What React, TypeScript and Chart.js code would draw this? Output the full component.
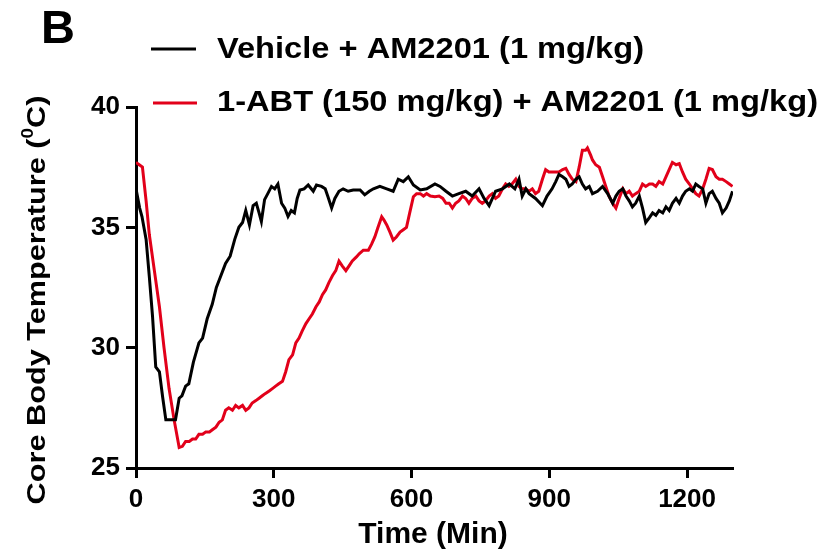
import React, { useEffect, useRef } from "react";
import { Chart, registerables } from "chart.js";

Chart.register(...registerables);

const FONT = '"Liberation Sans", Arial, Helvetica, sans-serif';

const seriesLabels = ["Vehicle + AM2201 (1 mg/kg)", "1-ABT (150 mg/kg) + AM2201 (1 mg/kg)"];
const seriesColors = ["#000000", "#e2001a"];

const xTicks = [0, 300, 600, 900, 1200];
const yTicks = [25, 30, 35, 40];

const vehicleTime = [
  0, 4, 8, 13, 22, 29, 36, 43, 51, 58, 65, 75, 86, 94, 100, 108, 115, 125, 137, 145,
  155, 166, 175, 185, 195, 205, 215, 224, 232, 239, 247, 255, 262, 268, 273, 280, 287, 295, 302, 309,
  317, 324, 331, 338, 345, 351, 357, 366, 375, 386, 393, 404, 412, 418, 426, 433, 442, 451, 462, 473,
  488, 498, 508, 517, 531, 546, 560, 571, 582, 593, 604, 619, 633, 651, 662, 675, 689, 703, 718, 732,
  747, 758, 769, 783, 798, 813, 825, 834, 841, 849, 856, 870, 885, 895, 906, 914, 921, 929, 936, 943,
  950, 958, 965, 972, 979, 987, 994, 1005, 1016, 1027, 1038, 1045, 1052, 1060, 1067, 1074, 1081, 1088, 1096, 1103,
  1110, 1118, 1125, 1132, 1139, 1147, 1154, 1161, 1168, 1176, 1183, 1190, 1197, 1205, 1212, 1219, 1226, 1234, 1241, 1248,
  1255, 1263, 1270, 1277, 1285, 1292, 1299,
];
const vehicleTemp = [
  35.9, 36.2, 35.8, 35.45, 34.5, 32.95, 31.3, 29.2, 29.0, 27.95, 27.0, 27.0, 27.0, 27.9, 28.0, 28.4, 28.5, 29.4, 30.2, 30.4,
  31.2, 31.8, 32.5, 33.0, 33.5, 33.8, 34.5, 35.0, 35.2, 35.7, 35.1, 35.9, 36.0, 35.6, 35.24, 36.15, 36.4, 36.7, 36.6, 36.8,
  36.0, 35.8, 35.45, 35.7, 35.6, 36.2, 36.55, 36.6, 36.76, 36.5, 36.76, 36.7, 36.6, 36.27, 35.8, 36.2, 36.5, 36.6, 36.5, 36.55,
  36.55, 36.35, 36.5, 36.6, 36.7, 36.6, 36.5, 37.0, 36.9, 37.1, 36.76, 36.55, 36.6, 36.8, 36.7, 36.5, 36.3, 36.4, 36.5, 36.3,
  36.6, 36.2, 35.9, 36.5, 36.6, 36.8, 36.6, 37.0, 36.3, 36.6, 36.4, 36.2, 35.9, 36.3, 36.6, 36.9, 37.2, 37.1, 37.0, 36.7,
  36.8, 37.0, 37.1, 36.8, 36.6, 36.7, 36.4, 36.5, 36.7, 36.4, 36.0, 36.3, 36.5, 36.6, 36.3, 36.1, 35.85, 36.0, 36.3, 35.8,
  35.2, 35.4, 35.6, 35.5, 35.7, 35.6, 35.85, 35.7, 36.0, 36.2, 36.0, 36.3, 36.5, 36.6, 36.5, 36.8, 36.7, 36.6, 36.0, 36.4,
  36.5, 36.2, 36.0, 35.6, 35.8, 36.1, 36.5,
];

const abtTime = [
  0, 7, 14, 22, 29, 40, 51, 61, 72, 83, 94, 101, 108, 116, 123, 130, 137, 145, 152, 160,
  167, 174, 181, 188, 195, 202, 210, 217, 224, 232, 239, 246, 253, 261, 268, 275, 282, 290, 297, 304,
  311, 319, 326, 333, 341, 348, 355, 362, 370, 377, 384, 392, 399, 406, 413, 420, 428, 435, 442, 449,
  457, 464, 471, 480, 486, 495, 506, 513, 520, 527, 535, 540, 546, 553, 560, 567, 575, 582, 589, 596,
  604, 611, 619, 626, 633, 641, 651, 660, 668, 675, 682, 689, 696, 703, 711, 718, 725, 732, 740, 747,
  754, 761, 769, 776, 783, 790, 798, 805, 812, 819, 827, 834, 841, 848, 856, 863, 870, 877, 885, 892,
  899, 906, 914, 921, 929, 936, 943, 950, 958, 965, 972, 979, 983, 990, 994, 1001, 1009, 1016, 1023, 1030,
  1038, 1045, 1052, 1060, 1067, 1074, 1081, 1088, 1096, 1103, 1110, 1118, 1125, 1132, 1139, 1147, 1154, 1161, 1168, 1176,
  1183, 1190, 1197, 1205, 1212, 1219, 1226, 1234, 1241, 1248, 1255, 1263, 1270, 1277, 1285, 1292, 1299,
];
const abtTemp = [
  37.7, 37.6, 37.5, 36.1, 34.7, 33.2, 31.7, 30.0, 28.3, 27.0, 25.85, 25.9, 26.1, 26.1, 26.2, 26.2, 26.4, 26.4, 26.5, 26.5,
  26.6, 26.7, 26.9, 27.0, 27.4, 27.5, 27.4, 27.6, 27.5, 27.6, 27.4, 27.5, 27.7, 27.8, 27.9, 28.0, 28.1, 28.2, 28.3, 28.4,
  28.5, 28.6, 29.0, 29.5, 29.7, 30.2, 30.4, 30.7, 31.0, 31.2, 31.4, 31.7, 31.9, 32.2, 32.4, 32.7, 33.0, 33.2, 33.6, 33.4,
  33.2, 33.4, 33.6, 33.77, 33.9, 34.05, 34.05, 34.3, 34.6, 35.0, 35.44, 35.3, 35.1, 34.8, 34.47, 34.6, 34.8, 34.9, 35.0, 35.6,
  36.27, 36.4, 36.4, 36.3, 36.4, 36.3, 36.27, 36.3, 36.2, 36.0, 36.0, 35.8, 36.0, 36.1, 36.3, 36.2, 36.0, 36.2, 36.3, 36.1,
  36.0, 36.1, 36.3, 36.4, 36.2, 36.3, 36.6, 36.8, 36.7, 36.8, 37.0, 36.7, 36.6, 36.6, 36.5, 36.6, 36.4, 36.5, 37.0, 37.4,
  37.3, 37.3, 37.3, 37.3, 37.4, 37.45, 37.2, 37.0, 36.9, 37.5, 38.2, 38.2, 38.3, 38.0, 37.8, 37.6, 37.5, 37.1, 36.7, 36.3,
  36.0, 35.8, 36.2, 36.6, 36.4, 36.5, 36.3, 36.4, 36.5, 36.8, 36.7, 36.8, 36.8, 36.7, 36.9, 36.8, 37.1, 37.4, 37.7, 37.6,
  37.65, 37.3, 37.0, 36.8, 36.6, 36.4, 36.3, 36.6, 37.0, 37.45, 37.4, 37.1, 37.0, 37.0, 36.9, 36.8, 36.7,
];

const overlayPlugin = {
  id: "overlay",
  afterDraw(chart: any) {
    const ctx: CanvasRenderingContext2D = chart.ctx;
    ctx.save();
    ctx.fillStyle = "#000";
    ctx.textBaseline = "alphabetic";
    ctx.textAlign = "left";

    // Panel letter
    ctx.font = `bold 47px ${FONT}`;
    ctx.fillText("B", 41, 43);

    // Legend
    const lineY = [49, 103];
    const textY = [58, 111];
    seriesLabels.forEach((label, i) => {
      ctx.strokeStyle = seriesColors[i];
      ctx.lineWidth = 3;
      ctx.beginPath();
      ctx.moveTo(151 + i * 2, lineY[i]);
      ctx.lineTo(196 + i * 1, lineY[i]);
      ctx.stroke();
      ctx.save();
      ctx.translate(217, textY[i]);
      ctx.scale(1.125, 1);
      ctx.font = `bold 29px ${FONT}`;
      ctx.fillStyle = "#000";
      ctx.fillText(label, 0, 0);
      ctx.restore();
    });

    // X title
    ctx.font = `bold 30px ${FONT}`;
    ctx.textAlign = "center";
    ctx.fillText("Time (Min)", 433, 543);

    // Y title with superscript
    ctx.save();
    ctx.translate(45, 300);
    ctx.rotate(-Math.PI / 2);
    ctx.scale(1.18, 1);
    ctx.textAlign = "left";
    const main1 = "Core Body Temperature (";
    const sup = "0";
    const main2 = "C)";
    ctx.font = `bold 26px ${FONT}`;
    const w1 = ctx.measureText(main1).width;
    const w3 = ctx.measureText(main2).width;
    ctx.font = `bold 16px ${FONT}`;
    const w2 = ctx.measureText(sup).width;
    const total = w1 + w2 + w3;
    let x0 = -total / 2;
    ctx.font = `bold 26px ${FONT}`;
    ctx.fillText(main1, x0, 0);
    x0 += w1;
    ctx.font = `bold 16px ${FONT}`;
    ctx.fillText(sup, x0, -12);
    x0 += w2;
    ctx.font = `bold 26px ${FONT}`;
    ctx.fillText(main2, x0, 0);
    ctx.restore();

    ctx.restore();
  },
};

export default function App() {
  const canvasRef = useRef<HTMLCanvasElement | null>(null);

  useEffect(() => {
    if (!canvasRef.current) return;
    const tickFont = { family: FONT, size: 26, weight: "bold" as const };
    const chart = new Chart(canvasRef.current, {
      type: "line",
      data: {
        datasets: [
          {
            label: seriesLabels[0],
            data: vehicleTime.map((t, i) => ({ x: t, y: vehicleTemp[i] })),
            borderColor: seriesColors[0],
            borderWidth: 3,
            pointRadius: 0,
            tension: 0,
            fill: false,
          },
          {
            label: seriesLabels[1],
            data: abtTime.map((t, i) => ({ x: t, y: abtTemp[i] })),
            borderColor: seriesColors[1],
            borderWidth: 3,
            pointRadius: 0,
            tension: 0,
            fill: false,
          },
        ],
      },
      options: {
        responsive: false,
        animation: false,
        layout: { padding: { top: 107, right: 100, left: 0, bottom: 0 } },
        plugins: {
          legend: { display: false },
          tooltip: { enabled: false },
        },
        scales: {
          x: {
            type: "linear",
            min: 0,
            max: 1300,
            afterBuildTicks: (s: any) => {
              s.ticks = xTicks.map((v) => ({ value: v }));
            },
            afterFit: (s: any) => {
              s.height = 87;
            },
            grid: {
              drawOnChartArea: false,
              drawTicks: true,
              tickLength: 10,
              tickWidth: 3,
              tickColor: "#000",
              color: "#000",
            },
            border: { color: "#000", width: 3 },
            ticks: {
              color: "#000",
              font: tickFont,
              padding: 6,
              maxRotation: 0,
              autoSkip: false,
              callback: (v: any) => String(v),
            },
          },
          y: {
            type: "linear",
            min: 25,
            max: 40,
            afterBuildTicks: (s: any) => {
              s.ticks = yTicks.map((v) => ({ value: v }));
            },
            afterFit: (s: any) => {
              s.width = 136;
            },
            grid: {
              drawOnChartArea: false,
              drawTicks: true,
              tickLength: 10,
              tickWidth: 3,
              tickColor: "#000",
              color: "#000",
            },
            border: { color: "#000", width: 3 },
            ticks: {
              color: "#000",
              font: tickFont,
              padding: 6,
              autoSkip: false,
              callback: (v: any) => String(v),
            },
          },
        },
      },
      plugins: [overlayPlugin],
    });
    return () => chart.destroy();
  }, []);

  return (
    <div style={{ position: "fixed", left: 0, top: 0, width: 833, height: 555, background: "#fff" }}>
      <canvas ref={canvasRef} width={833} height={555} style={{ width: 833, height: 555 }} />
    </div>
  );
}
